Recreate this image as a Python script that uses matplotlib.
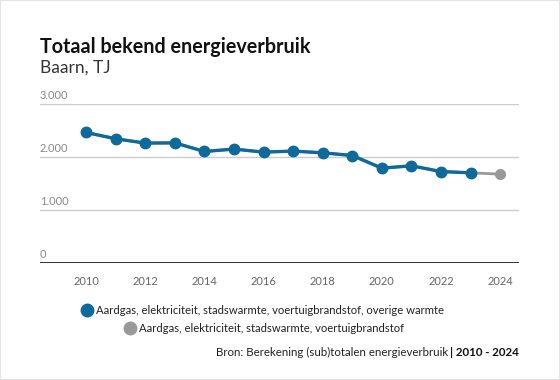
import matplotlib
matplotlib.use("Agg")
import matplotlib.pyplot as plt
from matplotlib.patches import Rectangle
from matplotlib.lines import Line2D

years = list(range(2010, 2025))
blue_label = "Aardgas, elektriciteit, stadswarmte, voertuigbrandstof, overige warmte"
grey_label = "Aardgas, elektriciteit, stadswarmte, voertuigbrandstof"
blue_values = [2464, 2345, 2264, 2268, 2106, 2151, 2094, 2113, 2081, 2030, 1792, 1836, 1728, 1704]
grey_values = [2464, 2345, 2264, 2268, 2106, 2151, 2094, 2113, 2081, 2030, 1792, 1836, 1728, 1704, 1679]
yticks = [0, 1000, 2000, 3000]
ytick_labels = ["0", "1.000", "2.000", "3.000"]
xticks = [2010, 2012, 2014, 2016, 2018, 2020, 2022, 2024]

plt.rcParams['font.family'] = ['Lato', 'DejaVu Sans']
BLUE = "#0f6a9c"
GREY = "#999999"

fig = plt.figure(figsize=(5.6, 3.8), dpi=100)
fig.patch.set_facecolor("white")
fig.patches.append(Rectangle((0, 0), 1, 1, transform=fig.transFigure, fill=False,
                             edgecolor="#e4e4e4", linewidth=1.5))

ax = fig.add_axes([40/560, 1-263.3/380, (519-40)/560, (263.3-104)/380])
ax.set_xlim(2008.44, 2024.64)
ax.set_ylim(0, 3000)

ax.plot(years, grey_values, color=GREY, lw=2.0, marker="o", ms=7, zorder=2)
ax.plot(years[:len(blue_values)], blue_values, color=BLUE, lw=2.4, marker="o", ms=7.5, zorder=3)

for v in yticks[1:]:
    ax.axhline(v, color="#cccccc", lw=1, zorder=1)
ax.axhline(0, color="#222222", lw=1.3, zorder=4)

for v, lab in zip(yticks, ytick_labels):
    ax.text(0, v + 60, lab, transform=ax.get_yaxis_transform(), ha="left", va="bottom",
            fontsize=8, color="#888888")

for s in ax.spines.values():
    s.set_visible(False)
ax.set_yticks([])
ax.set_xticks(xticks)
ax.set_xticklabels([str(x) for x in xticks])
ax.tick_params(axis="x", length=0, labelsize=8, labelcolor="#666666", pad=9)

fig.text(40/560, 1-47/380, "Totaal bekend energieverbruik", fontsize=14.2, fontweight="bold",
         color="#111111", ha="left", va="center")
fig.text(40/560, 1-68/380, "Baarn, TJ", fontsize=12.5, color="#333333", ha="left", va="center")

# legend
fig.add_artist(Line2D([87/560], [1-310/380], marker="o", ms=9, color=BLUE, transform=fig.transFigure))
fig.text(96/560, 1-310/380, blue_label, fontsize=8.1, color="#222222", ha="left", va="center")
fig.add_artist(Line2D([130/560], [1-328/380], marker="o", ms=9, color=GREY, transform=fig.transFigure))
fig.text(139/560, 1-328/380, grey_label, fontsize=8.1, color="#222222", ha="left", va="center")

# source
t = fig.text(519/560, 1-352/380, "| 2010 - 2024", fontsize=8.3, fontweight="bold", color="#111111",
             ha="right", va="center")
fig.canvas.draw()
bb = t.get_window_extent()
fig.text((bb.x0 - 2)/560, 1-352/380, "Bron: Berekening (sub)totalen energieverbruik", fontsize=8.3,
         color="#222222", ha="right", va="center")

fig.savefig("out.png", dpi=100, facecolor="white")
